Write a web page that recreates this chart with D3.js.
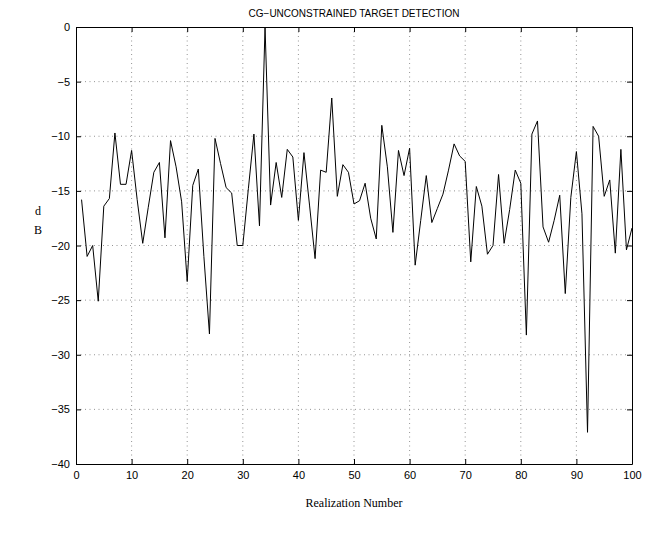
<!DOCTYPE html>
<html>
<head>
<meta charset="utf-8">
<script src="https://cdn.jsdelivr.net/npm/d3@7"></script>
<style>
  body { margin: 0; background: #fff; }
  .tick text { font-family: "Liberation Sans", Arial, sans-serif; font-size: 11px; fill: #000; }
  .grid line { stroke: #666; stroke-width: 0.7; stroke-dasharray: 1,3.5; }
  .grid .domain { display: none; }
</style>
</head>
<body>
<div id="graph"></div>
<script>
// realization index 1..100
var realization = d3.range(1, 101);
// dB values
var dbValues = [
  -15.8, -21.0, -20.0, -25.1, -16.4, -15.7, -9.7, -14.4, -14.4, -11.3,
  -15.8, -19.8, -16.5, -13.3, -12.4, -19.3, -10.4, -12.8, -16.0, -23.3,
  -14.5, -13.0, -21.0, -28.1, -10.2, -12.5, -14.7, -15.2, -20.0, -20.0,
  -14.8, -9.8, -18.2, 0.0, -16.3, -12.4, -15.6, -11.2, -11.9, -17.7,
  -11.5, -16.3, -21.2, -13.1, -13.3, -6.5, -15.5, -12.6, -13.3, -16.2,
  -15.9, -14.3, -17.5, -19.4, -9.0, -12.8, -18.8, -11.3, -13.6, -11.1,
  -21.8, -17.7, -13.6, -17.9, -16.6, -15.3, -13.1, -10.7, -11.8, -12.3,
  -21.5, -14.6, -16.4, -20.8, -20.0, -13.5, -19.8, -16.7, -13.1, -14.3,
  -28.2, -9.8, -8.6, -18.3, -19.7, -17.7, -15.4, -24.4, -15.6, -11.4,
  -17.1, -37.1, -9.1, -10.0, -15.5, -14.0, -20.7, -11.2, -20.4, -18.4
];
var xTicks = [0, 10, 20, 30, 40, 50, 60, 70, 80, 90, 100];
var yTicks = [0, -5, -10, -15, -20, -25, -30, -35, -40];

var W = 656, H = 533;
var margin = {top: 27, right: 24, bottom: 69, left: 76},
    width = W - margin.left - margin.right,
    height = H - margin.top - margin.bottom;

var x = d3.scaleLinear().domain([0, 100]).range([0, width]);
var y = d3.scaleLinear().domain([-40, 0]).range([height, 0]);

var svgRoot = d3.select("#graph").append("svg")
    .attr("width", W)
    .attr("height", H);

var svg = svgRoot.append("g")
    .attr("transform", "translate(" + margin.left + "," + margin.top + ")");

// dotted grid
svg.append("g")
    .attr("class", "grid")
    .selectAll("line.v")
    .data(xTicks.slice(1, -1))
    .enter().append("line")
    .attr("x1", function(d) { return x(d); })
    .attr("x2", function(d) { return x(d); })
    .attr("y1", 0)
    .attr("y2", height);

svg.append("g")
    .attr("class", "grid")
    .selectAll("line.h")
    .data(yTicks.slice(1, -1))
    .enter().append("line")
    .attr("x1", 0)
    .attr("x2", width)
    .attr("y1", function(d) { return y(d); })
    .attr("y2", function(d) { return y(d); });

// data line
var valueline = d3.line()
    .x(function(d, i) { return x(realization[i]); })
    .y(function(d) { return y(d); });

svg.append("path")
    .datum(dbValues)
    .attr("fill", "none")
    .attr("stroke", "#000")
    .attr("stroke-width", 1)
    .attr("d", valueline);

// axes, ticks pointing inward like matlab
svg.append("g")
    .attr("transform", "translate(0," + height + ")")
    .call(d3.axisBottom(x).tickValues(xTicks).tickSizeInner(-5).tickSizeOuter(0).tickPadding(7));

svg.append("g")
    .call(d3.axisLeft(y).tickValues(yTicks).tickSizeInner(-5).tickSizeOuter(0).tickPadding(6));

svg.append("g")
    .call(d3.axisTop(x).tickValues(xTicks).tickSizeInner(-5).tickSizeOuter(0).tickFormat(""));

svg.append("g")
    .attr("transform", "translate(" + width + ",0)")
    .call(d3.axisRight(y).tickValues(yTicks).tickSizeInner(-5).tickSizeOuter(0).tickFormat(""));

svg.selectAll(".domain").attr("stroke", "#000");
svg.selectAll(".tick line").attr("stroke", "#000");

// title
svgRoot.append("text")
    .attr("x", margin.left + width / 2)
    .attr("y", 17)
    .attr("text-anchor", "middle")
    .style("font-family", "Liberation Sans, Arial, sans-serif")
    .style("font-size", "10px")
    .text("CG\u2212UNCONSTRAINED TARGET DETECTION");

// x label
svgRoot.append("text")
    .attr("x", margin.left + width / 2)
    .attr("y", 507)
    .attr("text-anchor", "middle")
    .style("font-family", "Liberation Serif, Times New Roman, serif")
    .style("font-size", "12px")
    .text("Realization Number");

// y label, letters stacked
svgRoot.append("text")
    .attr("x", 38)
    .attr("y", 215)
    .attr("text-anchor", "middle")
    .style("font-family", "Liberation Serif, Times New Roman, serif")
    .style("font-size", "12px")
    .text("d");

svgRoot.append("text")
    .attr("x", 38)
    .attr("y", 234)
    .attr("text-anchor", "middle")
    .style("font-family", "Liberation Serif, Times New Roman, serif")
    .style("font-size", "12px")
    .text("B");
</script>
</body>
</html>
